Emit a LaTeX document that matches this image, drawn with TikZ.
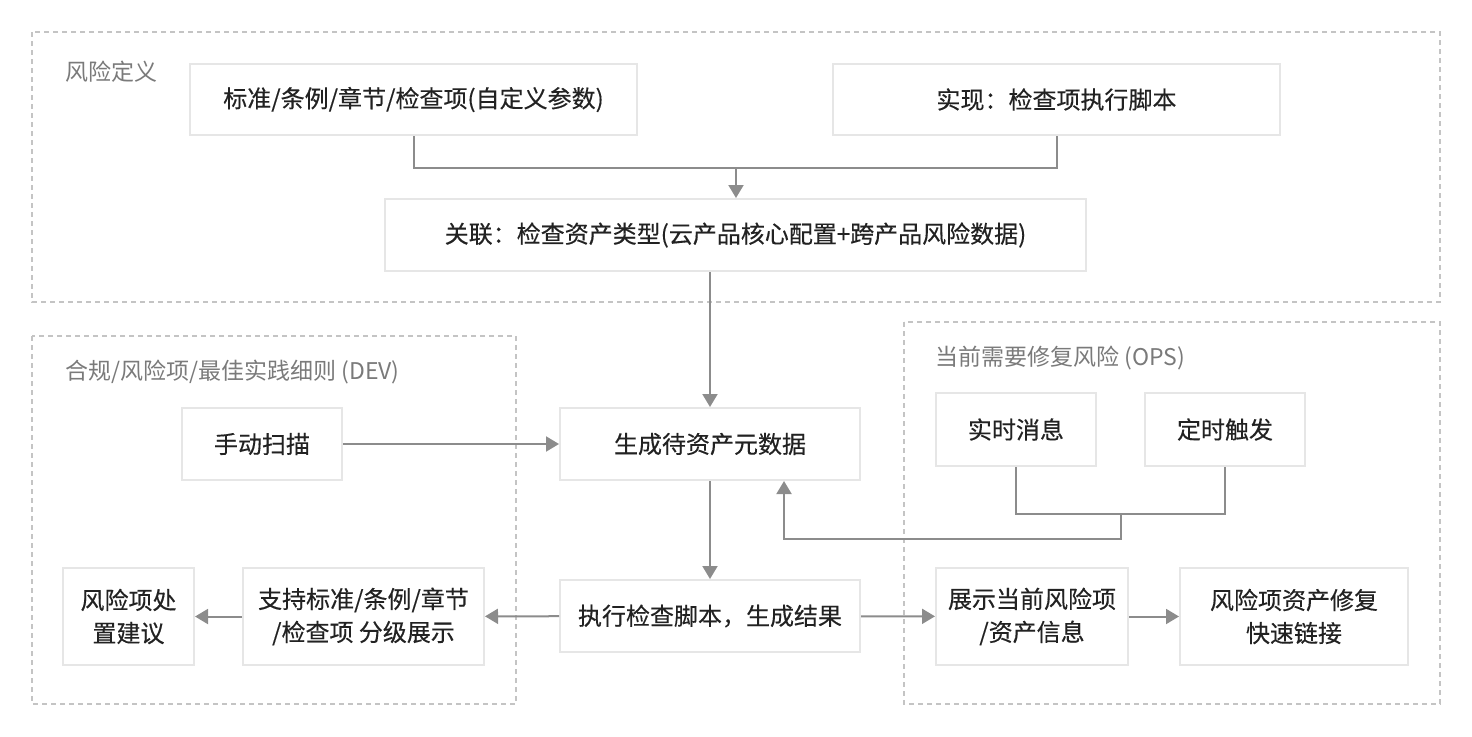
\documentclass[tikz,border=0pt]{standalone}
\usepackage{fontspec}
\setmainfont{Noto Sans CJK SC}
\newfontfamily\nodefont[FakeBold=0.35]{Noto Sans CJK SC}
\usetikzlibrary{arrows.meta,calc}
\definecolor{boxline}{HTML}{E6E6E6}
\definecolor{conn}{HTML}{8C8C8C}
\definecolor{grpline}{HTML}{C4C4C4}
\definecolor{lbl}{HTML}{7A7A7A}
\definecolor{txt}{HTML}{222222}
\tikzset{
  box/.style={draw=boxline, line width=1pt, fill=white, inner sep=0pt, align=center,
    text=txt, font=\nodefont\fontsize{12pt}{16.5pt}\selectfont},
  grp/.style={draw=grpline, line width=0.75pt, dash pattern=on 2.5pt off 2pt},
  grplabel/.style={anchor=west, inner sep=0pt, text=lbl, font=\fontsize{11.5pt}{14pt}\selectfont},
  conline/.style={draw=conn, line width=1pt},
  conarrow/.style={conline, -{Triangle[length=6.5pt,width=7.5pt]}}
}
\begin{document}
\begin{tikzpicture}[x=0.5pt,y=-0.5pt]
\useasboundingbox (0,0) rectangle (1472,736);
% groups
\draw[grp] (32,32) rectangle (1440,302);
\draw[grp] (32,336) rectangle (516,704);
\draw[grp] (904,322) rectangle (1440,704);
\node[grplabel] (l1) at (65,72) {风险定义};
\node[grplabel] (l2) at (65,372) {合规/风险项/最佳实践细则 (DEV)};
\node[grplabel] (l3) at (935,358) {当前需要修复风险 (OPS)};
% boxes
\node[box, minimum width=223.5pt, minimum height=35.5pt] (A) at (413.5,99.5) {标准/条例/章节/检查项(自定义参数)};
\node[box, minimum width=223.5pt, minimum height=35.5pt] (B) at (1056.5,99.5) {实现：检查项执行脚本};
\node[box, minimum width=350.5pt, minimum height=36pt] (C) at (735.5,235) {关联：检查资产类型(云产品核心配置+跨产品风险数据)};
\node[box, minimum width=80pt, minimum height=36pt] (D) at (262,444) {手动扫描};
\node[box, minimum width=150pt, minimum height=36pt] (E) at (710,444) {生成待资产元数据};
\node[box, minimum width=80pt, minimum height=36.5pt] (F) at (1016,429.5) {实时消息};
\node[box, minimum width=80pt, minimum height=36.5pt] (G) at (1225,429.5) {定时触发};
\node[box, minimum width=150pt, minimum height=36pt] (H) at (710,616) {执行检查脚本，生成结果};
\node[box, minimum width=120.5pt, minimum height=48.5pt] (I) at (363.5,616.5) {支持标准/条例/章节\\/检查项 分级展示};
\node[box, minimum width=65.5pt, minimum height=48.5pt] (J) at (128.5,616.5) {风险项处\\置建议};
\node[box, minimum width=96pt, minimum height=48.5pt] (K) at (1032,616.5) {展示当前风险项\\/资产信息};
\node[box, minimum width=114pt, minimum height=48.5pt] (L) at (1294,616.5) {风险项资产修复\\快速链接};
% connectors
\coordinate (j1) at (736,168);
\draw[conline] (A.south) |- (j1) -| (B.south);
\draw[conarrow] (j1) -- (j1 |- C.north);
\draw[conarrow] (C.south -| E.north) -- (E.north);
\draw[conarrow] (D) -- (E);
\draw[conarrow] (E) -- (H);
\coordinate (j2) at (1121,514);
\coordinate (j3) at (784,539);
\draw[conline] (F.south) |- (j2) -| (G.south);
\draw[conarrow] (j2) |- (j3) -- (j3 |- E.south);
\draw[conarrow] (H) -- (I);
\draw[conarrow] (I) -- (J);
\draw[conarrow] (H) -- (K);
\draw[conarrow] (K) -- (L);
\end{tikzpicture}
\end{document}
